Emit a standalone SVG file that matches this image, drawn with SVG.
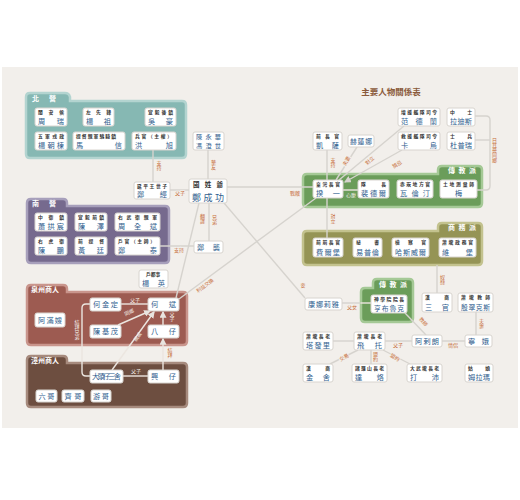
<svg xmlns="http://www.w3.org/2000/svg" width="520" height="500" viewBox="0 0 520 500">
<style>
text{font-family:"Noto Sans CJK TC","Noto Sans CJK SC",sans-serif}
.n rect{fill:#fff;stroke:#d8d4cf;stroke-width:1}
.t{font-size:4.8px;fill:#333;font-weight:bold}
.m{font-size:7.2px;fill:#2f5e8e}
.s{font-size:6.8px;fill:#2f5e8e}
.k{font-size:7px;fill:#fff;font-weight:bold}
.l{font-size:5px;fill:#c8703c;paint-order:stroke;stroke:#f2efeb;stroke-width:1.5}
.w{font-size:5px;fill:#f3ece6}
.v{writing-mode:vertical-rl}
.c line,.c path{stroke:#d6d3ce;stroke-width:1.4;fill:none}
.c .in{stroke:#ece6e0}
</style>
<defs>
<marker id="ar" viewBox="0 0 6 6" refX="5" refY="3" markerWidth="5" markerHeight="5" orient="auto"><path d="M0,0 L6,3 L0,6 Z" fill="#e8e4df"/></marker>
<marker id="ag" viewBox="0 0 6 6" refX="5" refY="3" markerWidth="5" markerHeight="5" orient="auto"><path d="M0,0 L6,3 L0,6 Z" fill="#d6d3ce"/></marker>
</defs>
<rect x="0" y="0" width="520" height="500" fill="#fff"/>
<rect x="2" y="67" width="516" height="361" fill="#f2efeb"/>
<text x="391" y="95" text-anchor="middle" font-size="8.5" font-weight="bold" fill="#8a5a3a">主要人物關係表</text>

<!-- groups -->
<g id="g-north"><path d="M30,93 H65 Q69,93 70,97 V101 H182 Q186,101 186,105 V154 Q186,158 182,158 H30 Q26,158 26,154 V97 Q26,93 30,93 Z" fill="#86b8b3" stroke="#b3d4d0" stroke-width="2.5"/><text class="k" x="32" y="100.5" textLength="24">北營</text></g>
<g id="g-south"><path d="M31,199 H63 Q67,199 67,203 V206 H165 Q169,206 169,210 V259 Q169,263 165,263 H31 Q27,263 27,259 V203 Q27,199 31,199 Z" fill="#766a8e" stroke="#a79fbb" stroke-width="2.5"/><text class="k" x="32" y="205.5" textLength="24">南營</text></g>
<g id="g-quanzhou"><path d="M31,285 H63 Q67,285 67,289 V292 H183 Q187,292 187,296 V341 Q187,345 183,345 H31 Q27,345 27,341 V289 Q27,285 31,285 Z" fill="#9d5b51" stroke="#c9958c" stroke-width="2.5"/><text class="k" x="31" y="291.5">泉州商人</text></g>
<g id="g-zhangzhou"><path d="M31,356 H63 Q67,356 67,360 V363 H183 Q187,363 187,367 V403 Q187,407 183,407 H31 Q27,407 27,403 V360 Q27,356 31,356 Z" fill="#6d4e40" stroke="#a68a7d" stroke-width="2.5"/><text class="k" x="31" y="362.5">漳州商人</text></g>
<g id="g-mission1"><path d="M307,174 H438 V170 Q438,166 442,166 H478 Q482,166 482,170 V203 Q482,207 478,207 H307 Q303,207 303,203 V178 Q303,174 307,174 Z" fill="#6b9d5a" stroke="#a5c996" stroke-width="2.5"/><text class="k" x="448" y="173" textLength="28">傳教派</text></g>
<g id="g-trade"><path d="M307,231 H438 V227 Q438,223 442,223 H478 Q482,223 482,227 V261 Q482,265 478,265 H307 Q303,265 303,261 V235 Q303,231 307,231 Z" fill="#959455" stroke="#c3c28e" stroke-width="2.5"/><text class="k" x="448" y="230" textLength="28">商務派</text></g>
<g id="g-mission2"><path d="M365,288 H373 V283 Q373,279 377,279 H409 Q413,279 413,283 V318 Q413,322 409,322 H365 Q361,322 361,318 V292 Q361,288 365,288 Z" fill="#6b9d5a" stroke="#a5c996" stroke-width="2.5"/><text class="k" x="379" y="286.5" textLength="28">傳教派</text></g>

<!-- connectors -->
<g id="connectors" class="c">
<line x1="153" y1="150" x2="153" y2="182"/>
<line x1="170" y1="190" x2="189" y2="190"/>
<line x1="208" y1="150" x2="208" y2="179"/>
<line x1="227" y1="187" x2="313" y2="187"/>
<line x1="209" y1="203" x2="209" y2="241"/>
<line x1="199" y1="203" x2="176" y2="298"/>
<line x1="160" y1="246" x2="194" y2="246"/>
<line x1="224" y1="203" x2="305" y2="298"/>
<line x1="179" y1="299" x2="316" y2="198"/>
<line x1="327" y1="150" x2="327" y2="180"/>
<line x1="327" y1="198" x2="327" y2="238"/>
<line x1="357" y1="147" x2="336" y2="180"/>
<line x1="404" y1="126" x2="339" y2="180"/>
<line x1="402" y1="150" x2="345" y2="182" marker-end="url(#ag)"/>
<line x1="343" y1="190" x2="358" y2="190" class="in"/>
<path d="M475,116 H486 Q490,116 490,120 V186 Q490,190 486,190 H477"/>
<line x1="475" y1="140" x2="490" y2="140"/>
<line x1="437" y1="265" x2="437" y2="293"/>
<line x1="342" y1="303" x2="361" y2="303"/>
<line x1="361" y1="303" x2="371" y2="303" class="in"/>
<line x1="476" y1="312" x2="476" y2="335"/>
<line x1="405" y1="313" x2="426" y2="335"/>
<line x1="442" y1="341" x2="465" y2="341"/>
<line x1="385" y1="341" x2="412" y2="341"/>
<line x1="333" y1="341" x2="354" y2="341"/>
<line x1="358" y1="350" x2="330" y2="364"/>
<line x1="371" y1="350" x2="371" y2="364"/>
<line x1="383" y1="350" x2="410" y2="364"/>
<line x1="121" y1="304" x2="148" y2="304" class="in"/>
<line x1="118" y1="325" x2="150" y2="311" class="in" marker-end="url(#ar)"/>
<line x1="112" y1="370" x2="154" y2="312" class="in" marker-end="url(#ar)"/>
<line x1="163" y1="325" x2="163" y2="312" class="in" marker-end="url(#ar)"/>
<line x1="163" y1="370" x2="163" y2="339" class="in" marker-end="url(#ar)"/>
<line x1="123" y1="376" x2="148" y2="376" class="in"/>
<path class="in" d="M90,304 H86 Q82,304 82,308 V372 Q82,376 86,376 H90"/>
</g>

<!-- connector labels -->
<g id="labels">
<text class="l v" x="159" y="166" text-anchor="middle">支持</text>
<text class="l" x="180" y="194.5" text-anchor="middle">父子</text>
<text class="l v" x="213.5" y="165" text-anchor="middle">摯友</text>
<text class="l" x="295" y="195" text-anchor="middle">戰敵</text>
<text class="l v" x="214.5" y="220" text-anchor="middle">兄弟</text>
<text class="l v" x="202.5" y="219" text-anchor="middle">翻譯</text>
<text class="l" x="179" y="252" text-anchor="middle">支持</text>
<text class="l" x="303" y="287" text-anchor="middle">妾</text>
<text class="l" x="0" y="0" text-anchor="middle" transform="translate(206,287) rotate(-36)">利益交換</text>
<text class="l v" x="333" y="163" text-anchor="middle">支持</text>
<text class="l v" x="333" y="219" text-anchor="middle">對立</text>
<text class="l" x="0" y="0" text-anchor="middle" transform="translate(348,162) rotate(-60)">夫妻</text>
<text class="l" x="0" y="0" text-anchor="middle" transform="translate(371,162) rotate(-42)">對立</text>
<text class="l" x="0" y="0" text-anchor="middle" transform="translate(398,166) rotate(-30)">猜忌</text>
<text class="w" x="351" y="197" text-anchor="middle">心腹</text>
<text class="l v" x="494.5" y="150" text-anchor="middle">日耳曼同鄉</text>
<text class="l v" x="442.5" y="280" text-anchor="middle">奴隸</text>
<text class="l" x="352" y="309" text-anchor="middle">父女</text>
<text class="l v" x="481.5" y="324" text-anchor="middle">夫妻</text>
<text class="l" x="0" y="0" text-anchor="middle" transform="translate(422,323) rotate(48)">教師</text>
<text class="l" x="453" y="346.5" text-anchor="middle">情侶</text>
<text class="l" x="398" y="346.5" text-anchor="middle">父子</text>
<text class="l" x="0" y="0" text-anchor="middle" transform="translate(345,359) rotate(-30)">交易</text>
<text class="l v" x="375.5" y="357" text-anchor="middle">盟約</text>
<text class="l" x="0" y="0" text-anchor="middle" transform="translate(394,359) rotate(30)">盟約</text>
<text class="w" x="135" y="301.5" text-anchor="middle">父子</text>
<text class="w" x="0" y="0" text-anchor="middle" transform="translate(130,314) rotate(-25)">同鄉</text>
<text class="w" x="0" y="0" text-anchor="middle" transform="translate(139,338) rotate(-55)">親戚</text>
<text class="w v" x="172" y="317" text-anchor="middle">父子</text>
<text class="l v" x="170" y="353" text-anchor="middle">結拜</text>
<text class="w" x="136" y="373" text-anchor="middle">父子</text>
<text class="w v" x="77" y="330" text-anchor="middle">結拜兄弟</text>
</g>

<!-- north nodes -->
<g id="n-zhourui" class="n"><rect x="35" y="108" width="32" height="18" rx="2"/><text class="t" x="38" y="113.8" textLength="26">閩安侯</text><text class="m" x="38" y="123.8" textLength="26">周瑞</text></g>
<g id="n-yangzu" class="n"><rect x="83" y="108" width="31" height="18" rx="2"/><text class="t" x="86" y="113.8" textLength="25">左先鋒</text><text class="m" x="86" y="123.8" textLength="25">楊祖</text></g>
<g id="n-wuhao" class="n"><rect x="145" y="108" width="31" height="18" rx="2"/><text class="t" x="148" y="113.8" textLength="25">宣毅後鎮</text><text class="m" x="148" y="123.8" textLength="25">吳豪</text></g>
<g id="n-yangchaodong" class="n"><rect x="35" y="132" width="32" height="18" rx="2"/><text class="t" x="38" y="137.8" textLength="26">五軍戎政</text><text class="m" x="38" y="147.8" textLength="26">楊朝棟</text></g>
<g id="n-maxin" class="n"><rect x="73" y="132" width="52" height="18" rx="2"/><text class="t" x="76" y="137.8" textLength="40">提督親軍驍騎鎮</text><text class="m" x="76" y="147.8" textLength="46">馬信</text></g>
<g id="n-hongxu" class="n"><rect x="132" y="132" width="44" height="18" rx="2"/><text class="t" x="135" y="137.8" textLength="37">兵官（主權）</text><text class="m" x="135" y="147.8" textLength="38">洪旭</text></g>

<!-- south nodes -->
<g id="n-xiaogongchen" class="n"><rect x="35" y="213" width="32" height="18" rx="2"/><text class="t" x="38" y="218.8" textLength="26">中衛鎮</text><text class="m" x="38" y="228.8" textLength="26">蕭拱宸</text></g>
<g id="n-chenze" class="n"><rect x="75" y="213" width="32" height="18" rx="2"/><text class="t" x="78" y="218.8" textLength="26">宣毅前鎮</text><text class="m" x="78" y="228.8" textLength="26">陳澤</text></g>
<g id="n-zhouquanbin" class="n"><rect x="115" y="213" width="45" height="18" rx="2"/><text class="t" x="118" y="218.8" textLength="39">右武衛親軍</text><text class="m" x="118" y="228.8" textLength="39">周全斌</text></g>
<g id="n-chenpeng" class="n"><rect x="35" y="237" width="32" height="18" rx="2"/><text class="t" x="38" y="242.8" textLength="26">右虎衛</text><text class="m" x="38" y="252.8" textLength="26">陳鵬</text></g>
<g id="n-huangting" class="n"><rect x="75" y="237" width="32" height="18" rx="2"/><text class="t" x="78" y="242.8" textLength="26">前提督</text><text class="m" x="78" y="252.8" textLength="26">黃廷</text></g>
<g id="n-zhengtai" class="n"><rect x="115" y="237" width="45" height="18" rx="2"/><text class="t" x="118" y="242.8" textLength="37">戶官（主帥）</text><text class="m" x="118" y="252.8" textLength="39">鄭泰</text></g>

<!-- center nodes -->
<g id="n-chenyonghua" class="n"><rect x="193" y="132" width="31" height="18" rx="2"/><text x="196" y="139.3" textLength="25" font-size="6.2" fill="#2f5e8e">陳永華</text><text x="196" y="148.3" textLength="25" font-size="6.2" fill="#2f5e8e">馮澄世</text></g>
<g id="n-zhengchenggong" class="n"><rect x="189" y="179" width="38" height="24" rx="2"/><text x="193" y="187" textLength="30" font-size="6.5" font-weight="bold" fill="#333">國姓爺</text><text x="192" y="200.5" textLength="32" font-size="9" fill="#2f5e8e">鄭成功</text></g>
<g id="n-zhengjing" class="n"><rect x="134" y="182" width="36" height="17" rx="2"/><text class="t" x="137" y="187.8" textLength="30">延平王世子</text><text class="m" x="137" y="196.8" textLength="30">鄭經</text></g>
<g id="n-zhengxi" class="n"><rect x="194" y="241" width="29" height="12" rx="2"/><text class="m" x="197" y="249.8" textLength="23">鄭襲</text></g>
<g id="n-yangying" class="n"><rect x="139" y="270" width="29" height="18" rx="2"/><text class="t" x="146" y="275.8">戶都事</text><text class="m" x="142" y="285.8" textLength="23">楊英</text></g>

<!-- quanzhou / zhangzhou -->
<g id="n-amansao" class="n"><rect x="35" y="313" width="30" height="14" rx="2"/><text class="m" x="38" y="322.8" textLength="24">阿滿嫂</text></g>
<g id="n-hejinding" class="n"><rect x="90" y="298" width="31" height="13" rx="2"/><text class="m" x="93" y="307.3" textLength="25">何金定</text></g>
<g id="n-hebin" class="n"><rect x="148" y="298" width="31" height="13" rx="2"/><text class="m" x="151" y="307.3" textLength="25">何斌</text></g>
<g id="n-chenjimao" class="n"><rect x="90" y="325" width="31" height="13" rx="2"/><text class="m" x="93" y="334.3" textLength="25">陳基茂</text></g>
<g id="n-bazai" class="n"><rect x="148" y="325" width="31" height="13" rx="2"/><text class="m" x="151" y="334.3" textLength="25">八仔</text></g>
<g id="n-datouzai" class="n"><rect x="90" y="370" width="33" height="13" rx="2"/><text class="m" x="92" y="379.3" textLength="29">大頭仔三舍</text></g>
<g id="n-xingzai" class="n"><rect x="148" y="370" width="31" height="13" rx="2"/><text class="m" x="151" y="379.3" textLength="25">興仔</text></g>
<g id="n-liuge" class="n"><rect x="36" y="390" width="21" height="12" rx="2"/><text class="m" x="38.5" y="398.8" textLength="16">六哥</text></g>
<g id="n-qige" class="n"><rect x="62" y="390" width="22" height="12" rx="2"/><text class="m" x="64.5" y="398.8" textLength="17">齊哥</text></g>
<g id="n-youge" class="n"><rect x="91" y="390" width="20" height="12" rx="2"/><text class="m" x="93" y="398.8" textLength="16">游哥</text></g>

<!-- right side -->
<g id="n-fandelan" class="n"><rect x="398" y="108" width="42" height="18" rx="2"/><text class="t" x="401" y="113.8" textLength="36">增援艦隊司令</text><text class="m" x="401" y="123.8" textLength="36">范德蘭</text></g>
<g id="n-ladisi" class="n"><rect x="447" y="108" width="28" height="18" rx="2"/><text class="t" x="450" y="113.8" textLength="22">中士</text><text class="m" x="450" y="123.8" textLength="22">拉迪斯</text></g>
<g id="n-kawu" class="n"><rect x="398" y="132" width="42" height="18" rx="2"/><text class="t" x="401" y="137.8" textLength="36">救援艦隊司令</text><text class="m" x="401" y="147.8" textLength="36">卡烏</text></g>
<g id="n-dupurui" class="n"><rect x="447" y="132" width="28" height="18" rx="2"/><text class="t" x="450" y="137.8" textLength="22">士兵</text><text class="m" x="450" y="147.8" textLength="22">杜普瑞</text></g>
<g id="n-kaisa" class="n"><rect x="313" y="132" width="29" height="18" rx="2"/><text class="t" x="316" y="137.8" textLength="23">前長官</text><text class="m" x="316" y="147.8" textLength="23">凱薩</text></g>
<g id="n-helianna" class="n"><rect x="348" y="135" width="26" height="12" rx="2"/><text class="s" x="350" y="143.5" textLength="22">赫蓮娜</text></g>

<g id="n-kuiyi" class="n"><rect x="313" y="180" width="30" height="18" rx="2"/><text class="t" x="316" y="185.8" textLength="24">臺灣長官</text><text class="m" x="316" y="195.8" textLength="24">揆一</text></g>
<g id="n-peideer" class="n"><rect x="358" y="180" width="31" height="18" rx="2"/><text class="t" x="361" y="185.8" textLength="25">隊長</text><text class="m" x="361" y="195.8" textLength="25">裴德爾</text></g>
<g id="n-walunting" class="n"><rect x="397" y="180" width="36" height="18" rx="2"/><text class="t" x="400" y="185.8" textLength="30">赤崁地方官</text><text class="m" x="400" y="195.8" textLength="30">瓦倫汀</text></g>
<g id="n-mei" class="n"><rect x="440" y="180" width="37" height="18" rx="2"/><text class="t" x="443" y="185.8" textLength="31">土地測量師</text><text class="m" x="458.5" y="195.8" text-anchor="middle">梅</text></g>

<g id="n-feierbao" class="n"><rect x="313" y="238" width="30" height="19" rx="2"/><text class="t" x="316" y="244" textLength="24">前前長官</text><text class="m" x="316" y="254.5" textLength="24">費爾堡</text></g>
<g id="n-yipulun" class="n"><rect x="353" y="238" width="29" height="19" rx="2"/><text class="t" x="356" y="244" textLength="23">祕書</text><text class="m" x="356" y="254.5" textLength="23">易普倫</text></g>
<g id="n-hasiweier" class="n"><rect x="392" y="238" width="37" height="19" rx="2"/><text class="t" x="395" y="244" textLength="31">檢察官</text><text class="m" x="395" y="254.5" textLength="31">哈斯威爾</text></g>
<g id="n-weibao" class="n"><rect x="439" y="238" width="37" height="19" rx="2"/><text class="t" x="442" y="244" textLength="31">蕭壠政務官</text><text class="m" x="442" y="254.5" textLength="31">維堡</text></g>

<g id="n-hengbuluke" class="n"><rect x="371" y="295" width="36" height="18" rx="2"/><text class="t" x="374" y="300.8" textLength="30">神學院院長</text><text class="s" x="374" y="310.6" textLength="30">亨布魯克</text></g>
<g id="n-kangnaliya" class="n"><rect x="305" y="298" width="37" height="12" rx="2"/><text class="m" x="308" y="306.8" textLength="31">康娜莉雅</text></g>
<g id="n-sanguan" class="n"><rect x="422" y="293" width="30" height="19" rx="2"/><text class="t" x="425" y="299" textLength="24">漢商</text><text class="m" x="425" y="309.5" textLength="24">三官</text></g>
<g id="n-yincuikesi" class="n"><rect x="458" y="293" width="35" height="19" rx="2"/><text class="t" x="461" y="299" textLength="29">蕭壠教師</text><text class="s" x="461" y="309.5" textLength="29">殷翠克斯</text></g>
<g id="n-ninge" class="n"><rect x="465" y="335" width="27" height="12" rx="2"/><text class="m" x="468" y="343.8" textLength="21">寧娥</text></g>
<g id="n-alalang" class="n"><rect x="412" y="335" width="30" height="12" rx="2"/><text class="m" x="415" y="343.8" textLength="24">阿剌朗</text></g>
<g id="n-feituo" class="n"><rect x="354" y="332" width="31" height="18" rx="2"/><text class="t" x="357" y="337.8" textLength="25">蕭壠長老</text><text class="m" x="357" y="347.8" textLength="25">飛托</text></g>
<g id="n-tafali" class="n"><rect x="303" y="332" width="30" height="18" rx="2"/><text class="t" x="306" y="337.8" textLength="24">蕭壠長老</text><text class="m" x="306" y="347.8" textLength="24">塔發里</text></g>
<g id="n-jinshe" class="n"><rect x="303" y="364" width="30" height="18" rx="2"/><text class="t" x="306" y="369.8" textLength="24">漢商</text><text class="m" x="306" y="379.8" textLength="24">金舍</text></g>
<g id="n-daluo" class="n"><rect x="352" y="364" width="35" height="18" rx="2"/><text class="t" x="355" y="369.8" textLength="29">諸羅山長老</text><text class="m" x="355" y="379.8" textLength="29">達烙</text></g>
<g id="n-dapei" class="n"><rect x="407" y="364" width="35" height="18" rx="2"/><text class="t" x="410" y="369.8" textLength="29">大武壠長老</text><text class="m" x="410" y="379.8" textLength="29">打沛</text></g>
<g id="n-mulama" class="n"><rect x="465" y="364" width="28" height="18" rx="2"/><text class="t" x="468" y="369.8" textLength="22">姑娘</text><text class="m" x="468" y="379.8" textLength="22">姆拉瑪</text></g>
</svg>
